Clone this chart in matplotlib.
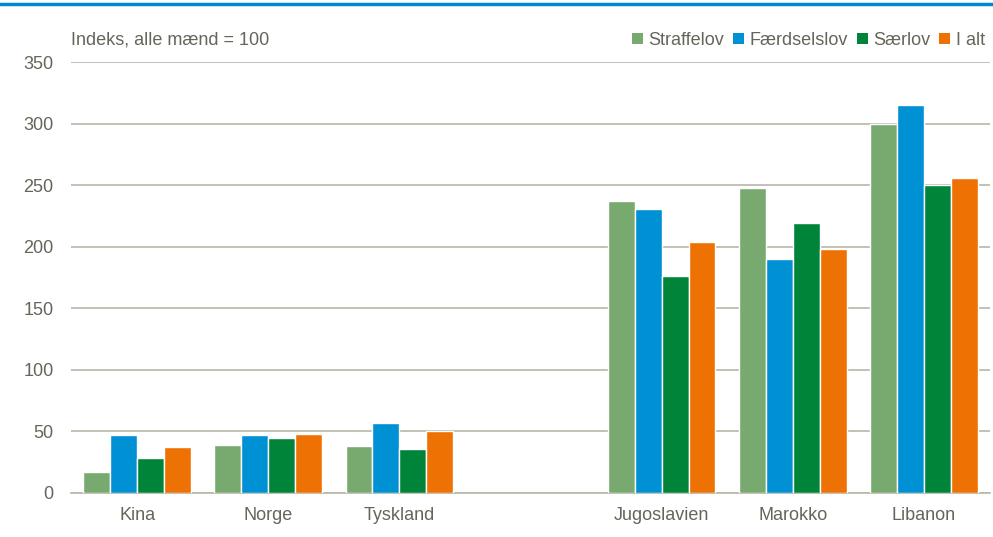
import matplotlib.pyplot as plt
import numpy as np
from matplotlib.patches import Patch
from matplotlib.lines import Line2D

categories = ["Kina", "Norge", "Tyskland", "", "Jugoslavien", "Marokko", "Libanon"]
straffelov = [17, 39, 38, np.nan, 237, 248, 300]
faerdselslov = [47, 47, 57, np.nan, 231, 190, 315]
saerlov = [28, 45, 36, np.nan, 176, 219, 250]
i_alt = [37, 48, 50, np.nan, 204, 198, 256]

series_names = ["Straffelov", "Færdselslov", "Særlov", "I alt"]
colors = ["#78aa70", "#0091d5", "#00843a", "#ee7203"]
yticks = [0, 50, 100, 150, 200, 250, 300, 350]

txt = "#65655a"
grid = "#b9b6a9"
plt.rcParams["font.family"] = ["Liberation Sans Narrow", "Liberation Sans", "DejaVu Sans"]

fig = plt.figure(figsize=(9.93, 5.37), dpi=100)
ax = fig.add_axes([0.072, 0.082, 0.9245, 0.8025])

x = np.arange(len(categories))
w = 0.205
data = [straffelov, faerdselslov, saerlov, i_alt]
for i, (vals, c) in enumerate(zip(data, colors)):
    ax.bar(x + (i - 1.5) * w, vals, width=w, color=c, edgecolor="white",
           linewidth=1.0, zorder=3)

ax.set_xlim(-0.5, len(categories) - 0.5)
ax.set_ylim(0, 350)
ax.set_yticks(yticks)
ax.set_xticks(x)
ax.set_xticklabels(categories)
ax.yaxis.grid(True, color=grid, linewidth=1.2, zorder=0)
for s in ["top", "right", "left"]:
    ax.spines[s].set_visible(False)
ax.spines["bottom"].set_color(grid)
ax.spines["bottom"].set_linewidth(1.2)
ax.tick_params(axis="both", length=0, labelsize=13, colors=txt)
ax.tick_params(axis="y", pad=13)
ax.tick_params(axis="x", pad=10)

# top rule
fig.add_artist(Line2D([0, 1], [0.993, 0.993], color="#0088cc", linewidth=2.5,
                      transform=fig.transFigure))

fig.text(0.071, 0.925, "Indeks, alle mænd = 100", fontsize=13, color=txt,
         va="center", ha="left")

handles = [Patch(facecolor=c, edgecolor="none") for c in colors]
leg = fig.legend(handles, series_names, loc="center right", ncol=4,
                 bbox_to_anchor=(0.999, 0.925), frameon=False, fontsize=13,
                 handlelength=0.6, handleheight=0.6, handletextpad=0.3,
                 columnspacing=0.5, borderaxespad=0)
for t in leg.get_texts():
    t.set_color(txt)

fig.savefig("out.png", dpi=100)
